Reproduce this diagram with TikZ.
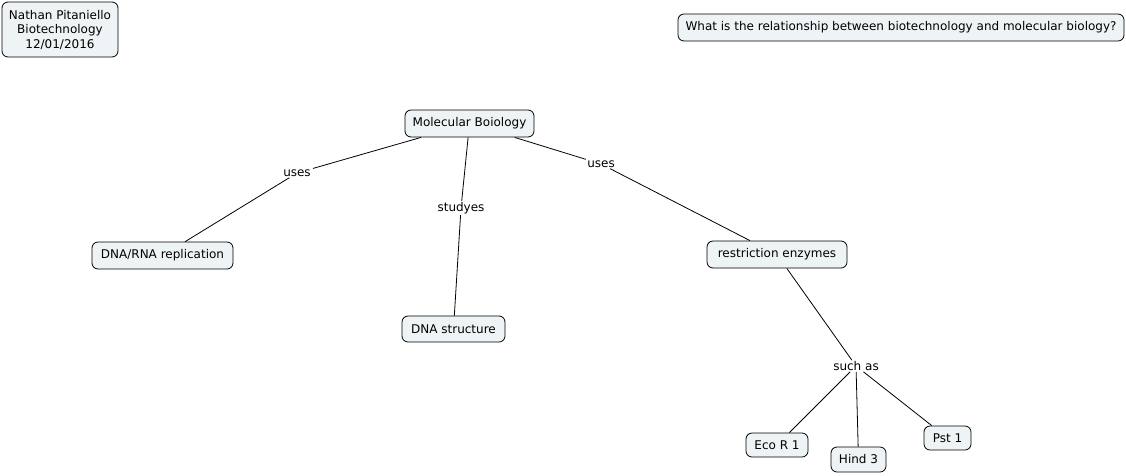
\documentclass[tikz,border=0pt]{standalone}
\usepackage{fontspec}
\setmainfont{DejaVu Sans}
\definecolor{boxfill}{HTML}{EEF4F6}
\begin{document}
\begin{tikzpicture}[x=1pt,y=-1pt,
  concept/.style={draw=black,fill=boxfill,rounded corners=6pt,line width=0.8pt,font=\fontsize{12}{14.5}\selectfont,inner xsep=0pt,inner ysep=0pt,align=center},
  lab/.style={font=\fontsize{12}{14.5}\selectfont,inner xsep=2pt,inner ysep=1pt},
  conn/.style={draw=black,line width=0.8pt}]
\useasboundingbox (0,0) rectangle (1126,475);
\node[concept,minimum width=116pt,minimum height=55pt] (title) at (60,29.5) {Nathan Pitaniello\\Biotechnology\\12/01/2016};
\node[concept,minimum width=446pt,minimum height=27pt] (q) at (901,27.5) {What is the relationship between biotechnology and molecular biology?};
\node[concept,minimum width=129pt,minimum height=27pt] (mb) at (469.5,123.5) {Molecular Boiology};
\node[concept,minimum width=141pt,minimum height=27pt] (dna) at (162.5,255.5) {DNA/RNA replication};
\node[concept,minimum width=103pt,minimum height=26pt] (ds) at (453.5,329) {DNA structure};
\node[concept,minimum width=140pt,minimum height=27pt] (re) at (777,254.5) {restriction enzymes};
\node[concept,minimum width=62pt,minimum height=24pt] (eco) at (777,445) {Eco R 1};
\node[concept,minimum width=55pt,minimum height=25pt] (hind) at (858.5,459.5) {Hind 3};
\node[concept,minimum width=47pt,minimum height=24pt] (pst) at (947.5,438) {Pst 1};
\node[lab] (l1) at (297,173) {uses};
\node[lab] (l2) at (461,208) {studyes};
\node[lab] (l3) at (601,164) {uses};
\node[lab] (l4) at (856,366) {such as};
\draw[conn] (mb) -- (l1);
\draw[conn] (l1) -- (dna);
\draw[conn] (mb) -- (l2);
\draw[conn] (l2) -- (ds);
\draw[conn] (mb) -- (l3);
\draw[conn] (l3) -- (re);
\draw[conn] (re) -- (l4);
\draw[conn] (l4) -- (eco);
\draw[conn] (l4) -- (hind);
\draw[conn] (l4) -- (pst);
\end{tikzpicture}
\end{document}
